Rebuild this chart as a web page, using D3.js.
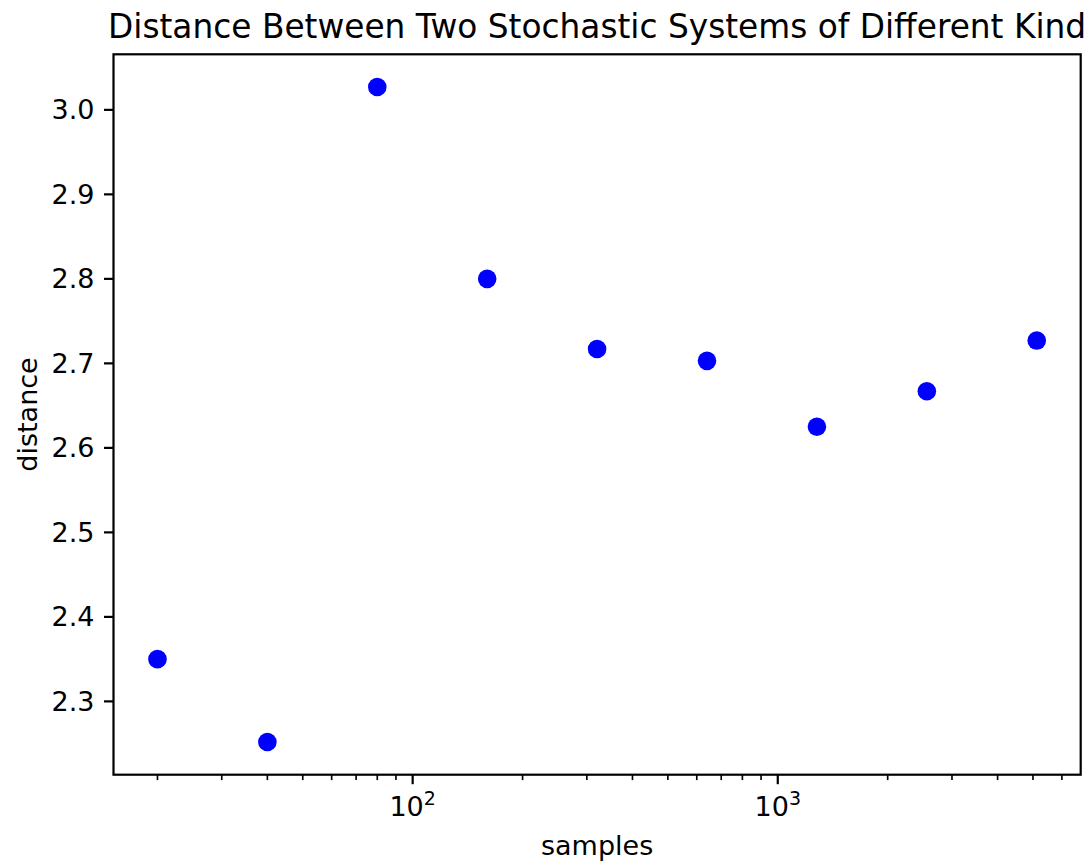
<!DOCTYPE html>
<html>
<head>
<meta charset="utf-8">
<script src="https://cdn.jsdelivr.net/npm/d3@7"></script>
<style>
  html, body { margin: 0; padding: 0; background: #fff; }
  svg { display: block; font-family: "DejaVu Sans", sans-serif; }
</style>
</head>
<body>
<svg id="chart" width="1091" height="865"></svg>
<script>
// Sample counts (log-spaced) and measured distance between the two systems
const samples = [20, 40, 80, 160, 320, 640, 1280, 2560, 5120];
const distance = [2.350, 2.252, 3.027, 2.800, 2.717, 2.703, 2.625, 2.667, 2.727];
const yTicks = [2.3, 2.4, 2.5, 2.6, 2.7, 2.8, 2.9, 3.0];
const xMajorTicks = [100, 1000];
const xMajorExponents = ["2", "3"];
const xMinorTicks = [20, 30, 40, 50, 60, 70, 80, 90, 200, 300, 400, 500, 600, 700, 800, 900,
                     2000, 3000, 4000, 5000, 6000];

const svg = d3.select("#chart");
const plotLeft = 113.5, plotRight = 1080.7, plotTop = 54.3, plotBottom = 774.7;

// Autoscale with 5% margins (log-space for x)
const lx0 = Math.log10(d3.min(samples)), lx1 = Math.log10(d3.max(samples));
const mx = (lx1 - lx0) * 0.05;
const x = d3.scaleLog()
  .domain([Math.pow(10, lx0 - mx), Math.pow(10, lx1 + mx)])
  .range([plotLeft, plotRight]);

const y0 = d3.min(distance), y1 = d3.max(distance);
const my = (y1 - y0) * 0.05;
const y = d3.scaleLinear().domain([y0 - my, y1 + my]).range([plotBottom, plotTop]);

const tickW = 2.2, majorLen = 9.5, minorLen = 5.4, pad = 9.5;
const fs = 27;

// Points
svg.append("g").selectAll("circle")
  .data(samples.map((s, i) => [s, distance[i]]))
  .join("circle")
  .attr("cx", d => x(d[0]))
  .attr("cy", d => y(d[1]))
  .attr("r", 9.3)
  .attr("fill", "#0000ff");

// Frame
svg.append("rect")
  .attr("x", plotLeft).attr("y", plotTop)
  .attr("width", plotRight - plotLeft).attr("height", plotBottom - plotTop)
  .attr("fill", "none").attr("stroke", "#000").attr("stroke-width", tickW);

// Y ticks
const gy = svg.append("g");
yTicks.forEach(t => {
  const py = y(t);
  gy.append("line").attr("x1", plotLeft - majorLen).attr("x2", plotLeft)
    .attr("y1", py).attr("y2", py).attr("stroke", "#000").attr("stroke-width", tickW);
  gy.append("text").attr("x", plotLeft - majorLen - pad).attr("y", py)
    .attr("text-anchor", "end").attr("dominant-baseline", "central")
    .attr("font-size", fs).attr("fill", "#000")
    .text(t.toFixed(1));
});

// X ticks
const gx = svg.append("g");
xMinorTicks.filter(t => x(t) >= plotLeft && x(t) <= plotRight).forEach(t => {
  const px = x(t);
  gx.append("line").attr("x1", px).attr("x2", px)
    .attr("y1", plotBottom).attr("y2", plotBottom + minorLen)
    .attr("stroke", "#000").attr("stroke-width", tickW * 0.75);
});
xMajorTicks.forEach((t, i) => {
  const px = x(t);
  gx.append("line").attr("x1", px).attr("x2", px)
    .attr("y1", plotBottom).attr("y2", plotBottom + majorLen)
    .attr("stroke", "#000").attr("stroke-width", tickW);
  const txt = gx.append("text").attr("x", px).attr("y", 816)
    .attr("text-anchor", "middle").attr("font-size", fs).attr("fill", "#000");
  txt.append("tspan").text("10");
  txt.append("tspan").attr("dy", -11).attr("font-size", 19).text(xMajorExponents[i]);
});

// Axis labels and title
svg.append("text").attr("x", (plotLeft + plotRight) / 2).attr("y", 855)
  .attr("text-anchor", "middle").attr("font-size", fs).attr("fill", "#000")
  .text("samples");

svg.append("text")
  .attr("transform", `translate(37, ${(plotTop + plotBottom) / 2}) rotate(-90)`)
  .attr("text-anchor", "middle").attr("font-size", fs).attr("fill", "#000")
  .text("distance");

svg.append("text").attr("x", (plotLeft + plotRight) / 2).attr("y", 38)
  .attr("text-anchor", "middle").attr("font-size", 32.8).attr("fill", "#000")
  .text("Distance Between Two Stochastic Systems of Different Kind");
</script>
</body>
</html>
